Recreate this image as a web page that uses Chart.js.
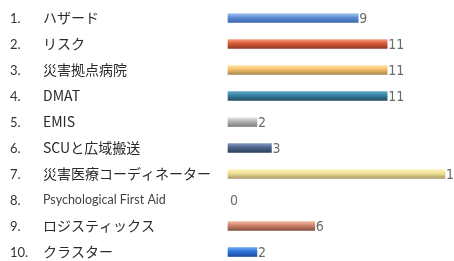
<!DOCTYPE html>
<html>
<head>
<meta charset="utf-8">
<script src="https://cdn.jsdelivr.net/npm/chart.js@4/dist/chart.umd.min.js"></script>
<style>
html,body{margin:0;padding:0;background:#fff;overflow:hidden;}
#wrap{width:454px;height:261px;}
</style>
</head>
<body>
<div id="wrap"><canvas id="c" width="454" height="261"></canvas></div>
<script>
const numbers = ["1.","2.","3.","4.","5.","6.","7.","8.","9.","10."];
const categories = ["ハザード","リスク","災害拠点病院","DMAT","EMIS","SCUと広域搬送","災害医療コーディネーター","Psychological First Aid","ロジスティックス","クラスター"];
const values = [9,11,11,11,2,3,15,0,6,2];
const barColors = [
  ['#a2c4ef','#5b8ed6','#3d68a8'],
  ['#f59a78','#d9583a','#8e3a26'],
  ['#ffe2a4','#f5bd68','#a48850'],
  ['#5ba8c8','#327f9f','#244f66'],
  ['#e6e6e6','#b4b4b4','#7e7e7e'],
  ['#8196bb','#4c638c','#2f3f5a'],
  ['#fff4bc','#eedd92','#a89c68'],
  ['#cccccc','#aaaaaa','#888888'],
  ['#f2b8a0','#cc8068','#84503e'],
  ['#70aaf2','#2f72d8','#1e4ea0']
];

const labelPlugin = {
  id: 'labelPlugin',
  afterDatasetsDraw(chart) {
    const ctx = chart.ctx;
    const ys = chart.scales.y, xs = chart.scales.x;
    ctx.save();
    ctx.textBaseline = 'middle';
    categories.forEach((name, i) => {
      const y = ys.getPixelForValue(i);
      ctx.fillStyle = '#333333';
      ctx.textAlign = 'left';
      ctx.font = '13px Lato, "Open Sans", sans-serif';
      ctx.fillText(numbers[i], 10, y + 1);
      const small = name.length > 15 && /^[A-Za-z ]+$/.test(name);
      ctx.fillStyle = small ? '#444444' : '#2a2a2a';
      ctx.font = small ? '12.5px Lato, "Open Sans", sans-serif'
                       : '14px "Noto Sans CJK JP", "Open Sans", sans-serif';
      ctx.fillText(name, 43, y);
      const xEnd = xs.getPixelForValue(values[i]);
      ctx.fillStyle = '#6a6a6a';
      ctx.font = '14px "Liberation Sans Narrow", "DejaVu Sans Condensed", sans-serif';
      ctx.fillText(String(values[i]), xEnd + (values[i] === 0 ? 2 : 1), y + 1);
    });
    ctx.restore();
  }
};

new Chart(document.getElementById('c'), {
  type: 'bar',
  data: {
    labels: categories,
    datasets: [{
      data: values,
      barThickness: 9,
      clip: false,
      borderWidth: 0,
      backgroundColor: (context) => {
        const chart = context.chart;
        const i = context.dataIndex;
        const c = barColors[i] || barColors[0];
        if (values[i] === 0) return 'rgba(0,0,0,0)';
        const ys = chart.scales.y;
        if (!ys || i === undefined) return c[1];
        const y = ys.getPixelForValue(i);
        if (!isFinite(y)) return c[1];
        const g = chart.ctx.createLinearGradient(0, y - 4.5, 0, y + 4.5);
        g.addColorStop(0, c[0]);
        g.addColorStop(0.45, c[1]);
        g.addColorStop(1, c[2]);
        return g;
      }
    }]
  },
  options: {
    indexAxis: 'y',
    responsive: false,
    devicePixelRatio: 1,
    animation: false,
    layout: { padding: { left: 228, right: 9, top: 18, bottom: 9 } },
    plugins: { legend: { display: false }, tooltip: { enabled: false } },
    scales: {
      x: { display: false, min: 0, max: 15 },
      y: { display: false, offset: false }
    }
  },
  plugins: [labelPlugin]
});
</script>
</body>
</html>
